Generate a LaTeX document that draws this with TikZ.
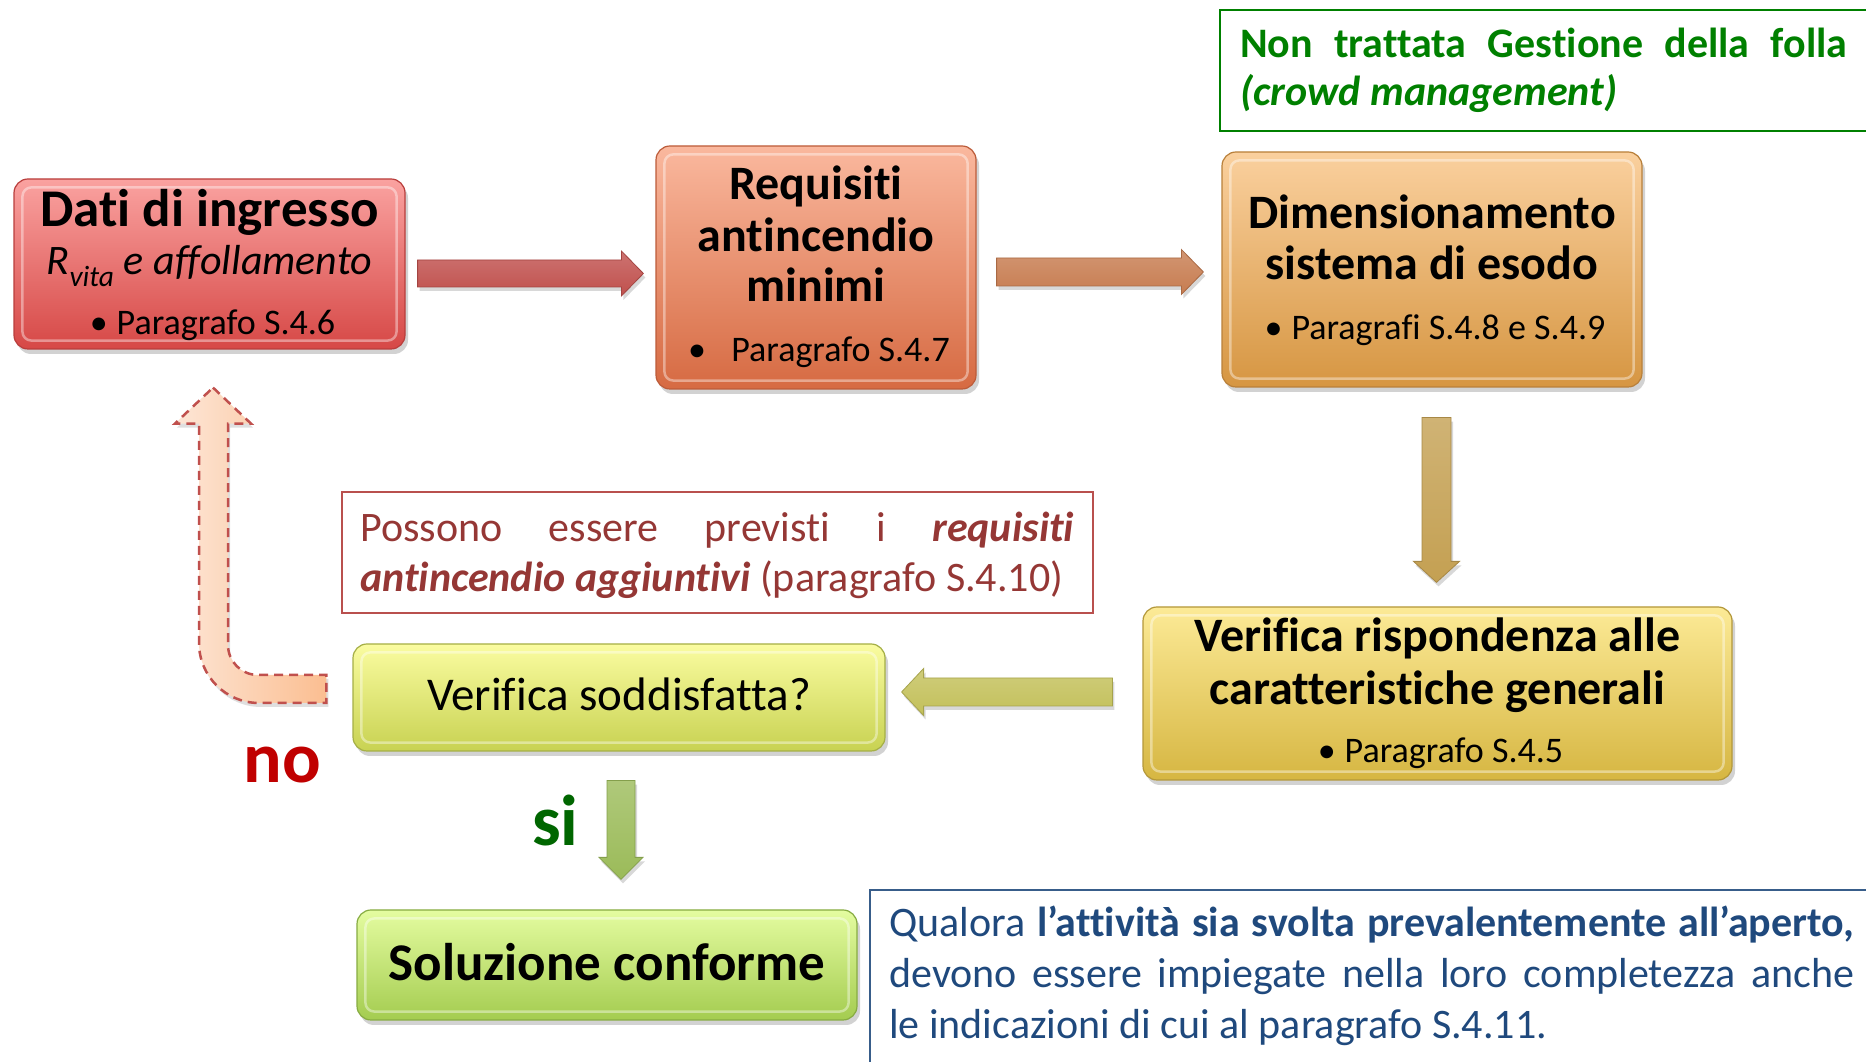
\documentclass[tikz,border=0pt]{standalone}
\usepackage{fontspec}
\setmainfont{Carlito}[Ligatures=NoCommon]
\usetikzlibrary{calc,shadows}

\definecolor{dTop}{RGB}{250,162,160}
\definecolor{dBot}{RGB}{214,72,70}
\definecolor{dDraw}{RGB}{185,62,60}
\definecolor{rTop}{RGB}{250,184,158}
\definecolor{rBot}{RGB}{214,106,66}
\definecolor{rDraw}{RGB}{188,92,58}
\definecolor{mTop}{RGB}{250,208,158}
\definecolor{mBot}{RGB}{214,150,66}
\definecolor{mDraw}{RGB}{185,128,58}
\definecolor{vTop}{RGB}{252,234,150}
\definecolor{vBot}{RGB}{214,182,66}
\definecolor{vDraw}{RGB}{180,152,58}
\definecolor{sTop}{RGB}{250,252,160}
\definecolor{sBot}{RGB}{200,210,82}
\definecolor{sDraw}{RGB}{165,175,70}
\definecolor{cTop}{RGB}{228,252,160}
\definecolor{cBot}{RGB}{164,204,80}
\definecolor{cDraw}{RGB}{135,172,66}
\definecolor{aRed}{RGB}{192,80,77}
\definecolor{aOra}{RGB}{199,124,80}
\definecolor{aGold}{RGB}{196,160,82}
\definecolor{aOlive}{RGB}{195,192,90}
\definecolor{aGreen}{RGB}{155,187,89}
\definecolor{noteGreen}{RGB}{0,128,0}
\definecolor{noteRed}{RGB}{149,55,53}
\definecolor{boxRed}{RGB}{185,80,78}
\definecolor{noteBlue}{RGB}{31,73,125}
\definecolor{boxBlue}{RGB}{56,93,138}
\definecolor{noRed}{RGB}{192,0,0}
\definecolor{siGreen}{RGB}{0,102,0}
\definecolor{peachL}{RGB}{253,230,214}
\definecolor{peachR}{RGB}{251,190,145}

\newcommand\fsz[1]{\fontsize{#1pt}{#1pt}\selectfont}

% horizontal block arrow: style, start, tip, shaft half, head half, head length (signed)
\newcommand\harrow[6]{%
  \path[#1] let \p1=(#2), \p2=(#3) in
    (\x1,{\y1+#4}) -- ({\x2-(#6)},{\y1+#4}) -- ({\x2-(#6)},{\y1+#5}) -- (\x2,\y1)
    -- ({\x2-(#6)},{\y1-#5}) -- ({\x2-(#6)},{\y1-#4}) -- (\x1,{\y1-#4}) -- cycle;}
% vertical block arrow
\newcommand\varrow[6]{%
  \path[#1] let \p1=(#2), \p2=(#3) in
    ({\x1-#4},\y1) -- ({\x1-#4},{\y2-(#6)}) -- ({\x1-#5},{\y2-(#6)}) -- (\x1,\y2)
    -- ({\x1+#5},{\y2-(#6)}) -- ({\x1+#4},{\y2-(#6)}) -- ({\x1+#4},\y1) -- cycle;}
\newcommand\bevel[1]{%
  \draw[white, opacity=0.4, line width=2.5pt, rounded corners=9pt]
    ($(#1.south west)+(9,9)$) rectangle ($(#1.north east)+(-9,-9)$);}

\tikzset{
  glossy/.style n args={3}{rectangle, rounded corners=14pt, top color=#1, bottom color=#2,
    draw=#3, line width=1.2pt, inner sep=0pt,
    drop shadow={opacity=0.35, shadow xshift=3pt, shadow yshift=-5pt}},
  blockarrow/.style n args={2}{top color=#1!80!white, bottom color=#1, draw=#2, line width=0.8pt,
    drop shadow={opacity=0.3, shadow xshift=2pt, shadow yshift=-4pt}},
  txt/.style={anchor=base, inner sep=0pt},
  txtw/.style={anchor=base west, inner sep=0pt},
  notebox/.style={rectangle, draw=#1, line width=2pt, inner sep=0pt},
}

\begin{document}
\begin{tikzpicture}[x=1pt,y=1pt]
\useasboundingbox (0,0) rectangle (1866,1062);
\fill[white] (0,0) rectangle (1866,1062);

% ---------- main boxes ----------
\node[glossy={dTop}{dBot}{dDraw}, minimum width=391pt, minimum height=170pt] (dati) at (209.5,798) {};
\node[glossy={rTop}{rBot}{rDraw}, minimum width=320pt, minimum height=243pt] (req) at (816,794.5) {};
\node[glossy={mTop}{mBot}{mDraw}, minimum width=420pt, minimum height=235pt] (dim) at (1432,792.5) {};
\node[glossy={vTop}{vBot}{vDraw}, minimum width=589pt, minimum height=173pt] (ver) at (1437.5,368.5) {};
\node[glossy={sTop}{sBot}{sDraw}, minimum width=532pt, minimum height=107pt] (sod) at (619,364.5) {};
\node[glossy={cTop}{cBot}{cDraw}, minimum width=500pt, minimum height=110pt] (sol) at (607,97) {};
\bevel{dati}\bevel{req}\bevel{dim}\bevel{ver}\bevel{sod}\bevel{sol}

% ---------- note boxes ----------
\node[notebox=noteGreen, minimum width=660pt, minimum height=121pt] (gnote) at (1550,991.5) {};
\node[notebox=boxRed, minimum width=751pt, minimum height=121pt] (poss) at (717.5,509.5) {};
\node[notebox=boxBlue, minimum width=1030pt, minimum height=192pt] (bnote) at (1385,76) {};

% ---------- connectors ----------
\coordinate (a1s) at ($(dati.east)+(12,-9.5)$);
\coordinate (a1e) at ($(req.west)+(-12,-6)$);
\harrow{blockarrow={aRed}{aRed!85!black}}{a1s}{a1e}{13.5pt}{22.5pt}{22pt}

\coordinate (a2s) at ($(req.east)+(20,-4.5)$);
\coordinate (a2e) at ($(dim.west)+(-18,-2.5)$);
\harrow{blockarrow={aOra}{aOra!85!black}}{a2s}{a2e}{14pt}{22.5pt}{22pt}

\coordinate (a3s) at ($(dim.south)+(4.5,-30)$);
\coordinate (a3e) at ($(ver.north)+(-1,24)$);
\varrow{blockarrow={aGold}{aGold!85!black}}{a3s}{a3e}{14.5pt}{23pt}{-21pt}

\coordinate (a4s) at ($(ver.west)+(-30,1.5)$);
\coordinate (a4e) at ($(sod.east)+(16,5.5)$);
\harrow{blockarrow={aOlive}{aOlive!85!black}}{a4s}{a4e}{14pt}{23.5pt}{-22pt}

\coordinate (a5s) at ($(sod.south)+(2,-29)$);
\coordinate (a5e) at ($(sol.north)+(14,30)$);
\varrow{blockarrow={aGreen}{aGreen!85!black}}{a5s}{a5e}{14pt}{22pt}{-22pt}

% dashed return arrow (no)
\coordinate (nS) at ($(sod.west)+(-26,8.5)$);
\coordinate (nE) at ($(dati.south)+(3.5,-38)$);
\path[left color=peachL, right color=peachR, draw=aRed, line width=2.5pt,
      dash pattern=on 9pt off 6pt,
      drop shadow={opacity=0.25, shadow xshift=2pt, shadow yshift=-4pt}]
  let \p1=(nS), \p2=(nE) in
  (\p2) -- ({\x2+38pt},{\y2-36pt}) -- ({\x2+15pt},{\y2-36pt}) -- ({\x2+15pt},{\y1+44pt})
  arc[start angle=180, end angle=270, radius=30pt] -- (\x1,{\y1+14pt}) -- (\x1,{\y1-14pt})
  -- ({\x2+46pt},{\y1-14pt}) arc[start angle=270, end angle=180, radius=60pt]
  -- ({\x2-14pt},{\y2-36pt}) -- ({\x2-38pt},{\y2-36pt}) -- cycle;

% ---------- texts ----------
\node[txt, font=\fsz{53}\bfseries] at ($(dati.center)+(0,37)$) {Dati di ingresso};
\node[txt, font=\fsz{42}\itshape] at ($(dati.center)+(0,-11)$) {R\textsubscript{vita} e affollamento};
\node[txt, font=\fsz{36}] at ($(dati.center)+(3,-71)$) {•\hspace{0.25em}Paragrafo S.4.6};

\node[txt, font=\fsz{48}\bfseries] at ($(req.center)+(0,67.5)$) {Requisiti};
\node[txt, font=\fsz{48}\bfseries] at ($(req.center)+(0,15.5)$) {antincendio};
\node[txt, font=\fsz{48}\bfseries] at ($(req.center)+(0,-34.5)$) {minimi};
\node[txt, font=\fsz{36}] at ($(req.center)+(3,-94.5)$) {•\hspace{0.7em}Paragrafo S.4.7};

\node[txt, font=\fsz{48}\bfseries] at ($(dim.center)+(0,40.5)$) {Dimensionamento};
\node[txt, font=\fsz{48}\bfseries] at ($(dim.center)+(0,-10.5)$) {sistema di esodo};
\node[txt, font=\fsz{36}] at ($(dim.center)+(3,-70.5)$) {•\hspace{0.25em}Paragrafi S.4.8 e S.4.9};

\node[txt, font=\fsz{48}\bfseries] at ($(ver.center)+(0,41.5)$) {Verifica rispondenza alle};
\node[txt, font=\fsz{48}\bfseries] at ($(ver.center)+(0,-11.5)$) {caratteristiche generali};
\node[txt, font=\fsz{36}] at ($(ver.center)+(3,-69.5)$) {•\hspace{0.25em}Paragrafo S.4.5};

\node[txt, font=\fsz{47}] at ($(sod.center)+(0,-13.5)$) {Verifica soddisfatta?};
\node[txt, font=\fsz{53}\bfseries] at ($(sol.center)+(0,-16)$) {Soluzione conforme};

\node[txtw, font=\fsz{42}\bfseries, text=noteGreen] at ($(gnote.north west)+(21,-49)$)
  {\makebox[607pt][s]{Non trattata Gestione della folla}};
\node[txtw, font=\fsz{42}\bfseries\itshape, text=noteGreen] at ($(gnote.north west)+(21,-97)$)
  {(crowd management)};

\node[txtw, font=\fsz{42}, text=noteRed] at ($(poss.north west)+(19,-51)$)
  {\makebox[714pt][s]{Possono essere previsti i \textbf{\textit{requisiti}}}};
\node[txtw, font=\fsz{42}, text=noteRed] at ($(poss.north west)+(19,-101)$)
  {\textbf{\textit{antincendio aggiuntivi}} (paragrafo S.4.10)};

\node[txtw, font=\fsz{42}, text=noteBlue] at ($(bnote.north west)+(20,-48)$)
  {\makebox[965pt][s]{Qualora \textbf{l’attività sia svolta prevalentemente all’aperto,}}};
\node[txtw, font=\fsz{42}, text=noteBlue] at ($(bnote.north west)+(20,-99)$)
  {\makebox[965pt][s]{devono essere impiegate nella loro completezza anche}};
\node[txtw, font=\fsz{42}, text=noteBlue] at ($(bnote.north west)+(20,-150)$)
  {le indicazioni di cui al paragrafo S.4.11.};

\node[txtw, font=\fsz{72}\bfseries, text=noRed] at ($(sod.south west)+(-109,-31)$) {no};
\node[txtw, font=\fsz{72}\bfseries, text=siGreen] at ($(sod.south)+(-87,-94)$) {si};
\end{tikzpicture}
\end{document}
